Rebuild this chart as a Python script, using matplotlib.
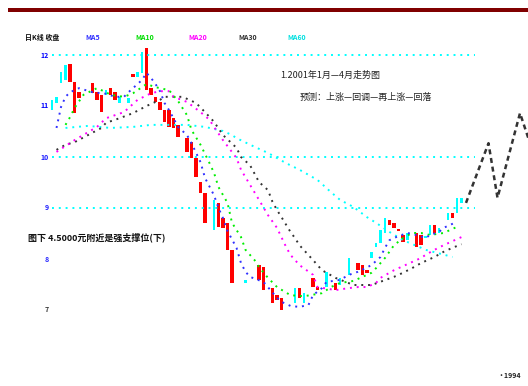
import matplotlib
matplotlib.use("Agg")
import matplotlib.pyplot as plt
from matplotlib.patches import Rectangle

plt.rcParams['font.family'] = ['Noto Sans CJK SC', 'DejaVu Sans']

# candles: trading day, body top, body bottom, colour ('r' red, 'c' cyan)
candle_day = [0, 1, 2, 3, 4, 5, 6, 9, 10, 11, 12, 13, 14, 15, 17, 18, 19, 20, 21,
              22, 23, 24, 25, 26, 27, 28, 30, 31, 32, 33, 34, 36, 37, 38, 39, 40,
              43, 46, 47, 49, 50, 51, 54, 55, 56, 58, 59, 61, 63, 64, 66, 68, 69,
              70, 71, 72, 73, 74, 75, 76, 77, 78, 79, 81, 82, 83, 84, 85, 86, 88,
              89, 90, 91]
candle_top = [11.12, 11.18, 11.67, 11.80, 11.82, 11.47, 11.27, 11.45, 11.27, 11.22,
              11.31, 11.35, 11.27, 11.18, 11.16, 11.63, 11.67, 12.06, 12.14, 11.35,
              11.18, 11.08, 10.92, 10.92, 10.76, 10.63, 10.37, 10.29, 9.98, 9.51,
              9.29, 9.16, 9.10, 8.80, 8.71, 8.18, 7.59, 7.88, 7.84, 7.43, 7.29,
              7.24, 7.43, 7.43, 7.33, 7.63, 7.45, 7.75, 7.53, 7.63, 8.02, 7.92,
              7.88, 7.78, 8.14, 8.31, 8.57, 8.80, 8.76, 8.71, 8.59, 8.47, 8.51,
              8.51, 8.47, 8.45, 8.67, 8.67, 8.61, 8.90, 8.90, 9.20, 9.20]
candle_bot = [10.92, 11.06, 11.45, 11.51, 11.47, 10.86, 11.16, 11.25, 11.12, 10.88,
              11.22, 11.22, 11.12, 11.06, 11.06, 11.57, 11.57, 11.65, 11.31, 11.22,
              11.08, 10.92, 10.69, 10.59, 10.57, 10.39, 10.10, 9.98, 9.61, 9.29,
              8.71, 8.57, 8.63, 8.61, 8.18, 7.53, 7.53, 7.59, 7.39, 7.14, 7.20,
              7.00, 7.14, 7.24, 7.14, 7.45, 7.39, 7.45, 7.39, 7.49, 7.69, 7.78,
              7.69, 7.73, 8.02, 8.24, 8.31, 8.51, 8.67, 8.61, 8.55, 8.33, 8.37,
              8.24, 8.27, 8.41, 8.47, 8.51, 8.51, 8.76, 8.80, 8.90, 9.10]
candle_col = ['c', 'c', 'c', 'c', 'r', 'r', 'r', 'r', 'r', 'r', 'c', 'r', 'r', 'c',
              'c', 'r', 'c', 'c', 'r', 'r', 'r', 'r', 'r', 'r', 'r', 'r', 'r', 'r',
              'r', 'r', 'r', 'c', 'r', 'r', 'r', 'r', 'c', 'r', 'r', 'r', 'r', 'r',
              'c', 'r', 'c', 'r', 'r', 'c', 'r', 'c', 'c', 'r', 'r', 'r', 'c', 'c',
              'c', 'c', 'r', 'r', 'r', 'r', 'c', 'r', 'r', 'c', 'c', 'r', 'c', 'c',
              'r', 'c', 'c']

# moving averages (day, value)
ma5_day = [1, 2, 3, 4, 5, 6, 9, 11, 12, 14, 16, 17, 18, 20, 21, 22, 23, 24, 25, 26,
           27, 28, 30, 31, 33, 34, 36, 37, 38, 39, 41, 42, 43, 44, 47, 50, 51, 53,
           55, 57, 58, 60, 61, 64, 66, 68, 71, 73, 74, 75, 77, 79, 81, 83, 84, 86,
           87, 90]
ma5_val = [10.57, 10.98, 11.18, 11.27, 11.31, 11.35, 11.27, 11.25, 11.24, 11.18,
           11.18, 11.27, 11.35, 11.51, 11.65, 11.55, 11.43, 11.29, 11.06, 10.92,
           10.76, 10.59, 10.43, 10.27, 9.90, 9.59, 9.25, 9.00, 8.80, 8.55, 8.22,
           7.92, 7.75, 7.65, 7.55, 7.24, 7.16, 7.08, 7.06, 7.10, 7.29, 7.43, 7.55,
           7.59, 7.69, 7.75, 7.88, 8.04, 8.22, 8.37, 8.45, 8.51, 8.47, 8.41, 8.47,
           8.53, 8.61, 8.73]
ma10_day = [3, 4, 5, 7, 10, 12, 13, 16, 18, 21, 23, 26, 28, 30, 31, 33, 35, 36, 37,
            39, 40, 42, 43, 45, 46, 48, 50, 53, 56, 60, 62, 64, 67, 69, 71, 72, 74,
            76, 78, 80, 82, 84, 87, 90]
ma10_val = [10.63, 10.78, 10.96, 11.22, 11.35, 11.27, 11.22, 11.18, 11.25, 11.43,
            11.37, 11.31, 11.10, 10.82, 10.53, 10.24, 9.88, 9.69, 9.41, 9.10, 8.71,
            8.43, 8.18, 7.98, 7.84, 7.63, 7.45, 7.29, 7.27, 7.33, 7.45, 7.53, 7.57,
            7.65, 7.73, 7.82, 8.02, 8.27, 8.41, 8.51, 8.51, 8.47, 8.51, 8.63]
ma20_day = [1, 5, 10, 12, 16, 19, 22, 24, 26, 27, 30, 33, 35, 36, 38, 41, 42, 46,
            48, 50, 52, 53, 55, 58, 59, 63, 66, 68, 70, 72, 73, 76, 78, 82, 83, 85,
            87, 91]
ma20_val = [10.10, 10.33, 10.59, 10.76, 10.88, 11.12, 11.25, 11.29, 11.29, 11.18,
            11.08, 10.88, 10.73, 10.59, 10.33, 9.98, 9.75, 9.16, 8.86, 8.61, 8.24,
            8.08, 7.88, 7.69, 7.45, 7.39, 7.43, 7.45, 7.45, 7.53, 7.63, 7.78, 7.86,
            8.02, 8.08, 8.18, 8.27, 8.43]
ma30_day = [1, 3, 5, 8, 11, 12, 15, 18, 21, 24, 25, 29, 30, 32, 34, 36, 38, 41, 42,
            44, 46, 48, 49, 50, 51, 53, 54, 55, 58, 60, 63, 67, 71, 76, 78, 80, 82,
            85, 87, 89, 91]
ma30_val = [10.14, 10.24, 10.29, 10.43, 10.57, 10.67, 10.76, 10.86, 11.00, 11.12,
            11.18, 11.18, 11.14, 11.06, 10.88, 10.69, 10.43, 10.18, 10.00, 9.84,
            9.51, 9.35, 9.12, 8.96, 8.82, 8.53, 8.41, 8.27, 7.98, 7.78, 7.63, 7.49,
            7.49, 7.65, 7.73, 7.82, 7.92, 8.04, 8.14, 8.22, 8.29]
ma60_day = [3, 8, 13, 18, 22, 30, 34, 36, 38, 40, 41, 45, 48, 52, 55, 59, 62, 64,
            67, 70, 72, 75, 78, 82, 83, 89]
ma60_val = [10.57, 10.61, 10.57, 10.59, 10.63, 10.63, 10.59, 10.55, 10.51, 10.43,
            10.37, 10.20, 10.08, 9.88, 9.75, 9.55, 9.31, 9.16, 9.02, 8.82, 8.71,
            8.53, 8.37, 8.22, 8.18, 8.04]

# projected path on the right
proj_day = [92, 97, 99, 104, 106]
proj_val = [9.10, 10.27, 9.20, 10.86, 10.33]

level_lines = [12.0, 10.0, 9.0]
ytick_vals = [12, 11, 10, 9, 8, 7]
ytick_cols = ['#0000ff', '#0000ff', '#2020ff', '#2020ff', '#2020ff', '#333333']

legend_items = [("日K线 收盘", '#111111', 25), ("MA5", '#3030ff', 85),
                ("MA10", '#00dd00', 135), ("MA20", '#ff00ff', 188),
                ("MA30", '#333333', 238), ("MA60", '#00e0e0', 287)]

W, H = 528, 386
fig = plt.figure(figsize=(W / 100, H / 100), dpi=100)
ax = fig.add_axes([0, 0, 1, 1])
ax.set_axis_off()
ax.set_xlim(-52 / 4.5, (W - 52) / 4.5)
ax.set_ylim(10 - 229 / 51, 10 + 157 / 51)

# dark red band at the top
fig.add_artist(Rectangle((8 / W, 1 - 12 / H), 1, 4 / H, transform=fig.transFigure,
                         color='#800000', lw=0))

dot = (0, (1, 2.5))
for lv in level_lines:
    ax.plot([0, 94], [lv, lv], color='#00ffff', lw=1.4, ls=dot)

ax.plot(ma60_day, ma60_val, color='#00ffff', lw=1.4, ls=dot)
ax.plot(ma30_day, ma30_val, color='#333333', lw=1.4, ls=dot)
ax.plot(ma20_day, ma20_val, color='#ff00ff', lw=1.4, ls=dot)
ax.plot(ma10_day, ma10_val, color='#00ee00', lw=1.4, ls=dot)
ax.plot(ma5_day, ma5_val, color='#3030ff', lw=1.4, ls=dot)

for d, t, b, c in zip(candle_day, candle_top, candle_bot, candle_col):
    if c == 'r':
        ax.bar(d, t - b, bottom=b, width=0.85, color='#ff0000', lw=0)
    else:
        ax.bar(d, t - b, bottom=b, width=0.45, color='#00ffff', lw=0)

ax.plot(proj_day, proj_val, color='#333333', lw=1.8, ls=(0, (2, 1.5)))

for v, col in zip(ytick_vals, ytick_cols):
    ax.text(-0.8, v, str(v), color=col, fontsize=5, ha='right', va='center',
            fontweight='bold')

for label, col, px in legend_items:
    fig.text(px / W, 1 - 37 / H, label, color=col, fontsize=5, ha='left',
             va='center', fontweight='bold')

fig.text(280 / W, 1 - 75 / H, "1.2001年1月—4月走势图", fontsize=6.5,
         color='#222222', va='center')
fig.text(300 / W, 1 - 97 / H, "预测：上涨—回调—再上涨—回落", fontsize=6.5,
         color='#222222', va='center')
fig.text(28 / W, 1 - 237 / H, "图下 4.5000元附近是强支撑位(下)", fontsize=6.5,
         color='#111111', va='center', fontweight='bold')
fig.text(497 / W, 1 - 376 / H, "·1994", fontsize=5, color='#222222', va='center',
         fontweight='bold')

fig.savefig("out.png", dpi=100, facecolor='white')
